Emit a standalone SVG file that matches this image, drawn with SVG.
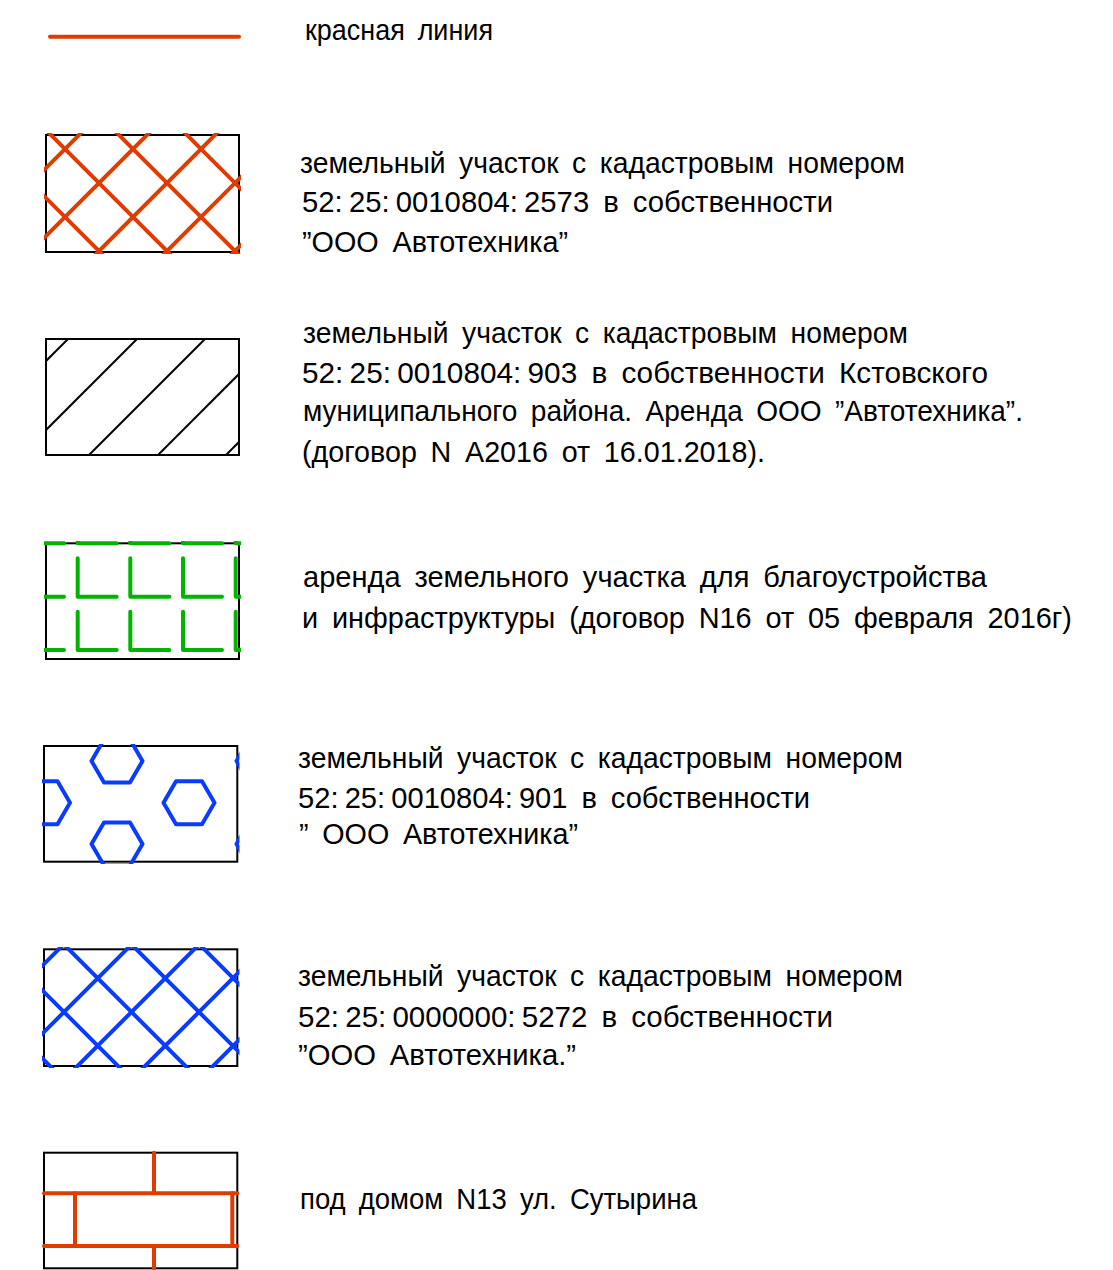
<svg xmlns="http://www.w3.org/2000/svg" width="1113" height="1270" viewBox="0 0 1113 1270">
<style>
.bg{fill:#ffffff}
.frame{fill:none;stroke:#000000;stroke-width:2}
.hatch{fill:none;stroke:#000000;stroke-width:2}
.red{fill:none;stroke:#E03C00;stroke-width:4;stroke-linecap:round;stroke-linejoin:round}
.green{fill:none;stroke:#00B400;stroke-width:4;stroke-linecap:round;stroke-linejoin:round}
.blue{fill:none;stroke:#0A3CFF;stroke-width:4;stroke-linecap:round;stroke-linejoin:round}
.t{font-family:"Liberation Sans","DejaVu Sans",sans-serif;font-size:30px;fill:#000000;word-spacing:6px}
.num{word-spacing:-2px}
</style>
<defs>
<clipPath id="c1"><rect x="44" y="133" width="197" height="121"/></clipPath>
<clipPath id="c2"><rect x="46" y="339" width="193" height="116"/></clipPath>
<clipPath id="c3"><rect x="44" y="541" width="197" height="120"/></clipPath>
<clipPath id="c4"><rect x="42" y="744" width="197.5" height="120"/></clipPath>
<clipPath id="c5"><rect x="42" y="947" width="197.5" height="121"/></clipPath>
</defs>
<rect class="bg" x="0" y="0" width="1113" height="1270"/>

<g id="legend-red-line">
<line class="red" x1="50" y1="36.7" x2="239" y2="36.7"/>
<text class="t" x="305" y="40" textLength="188" lengthAdjust="spacingAndGlyphs">красная линия</text>
</g>

<g id="legend-2573">
<rect class="frame" x="46" y="135" width="193" height="117"/>
<g clip-path="url(#c1)" class="red">
<line x1="0" y1="-52" x2="300" y2="248"/>
<line x1="0" y1="16" x2="300" y2="316"/>
<line x1="0" y1="84" x2="300" y2="384"/>
<line x1="0" y1="152" x2="300" y2="452"/>
<line x1="0" y1="214" x2="300" y2="-86"/>
<line x1="0" y1="282" x2="300" y2="-18"/>
<line x1="0" y1="350" x2="300" y2="50"/>
<line x1="0" y1="418" x2="300" y2="118"/>
<line x1="0" y1="486" x2="300" y2="186"/>
</g>
<text class="t" x="300" y="173" textLength="605" lengthAdjust="spacingAndGlyphs">земельный участок с кадастровым номером</text>
<text class="t" x="302" y="212" textLength="531" lengthAdjust="spacingAndGlyphs"><tspan class="num">52: 25: 0010804: 2573</tspan>  в собственности</text>
<text class="t" x="302" y="252" textLength="266" lengthAdjust="spacingAndGlyphs">”ООО Автотехника”</text>
</g>

<g id="legend-903">
<rect class="frame" x="46" y="339" width="193" height="116"/>
<g clip-path="url(#c2)" class="hatch">
<line x1="0" y1="407" x2="300" y2="107"/>
<line x1="0" y1="476" x2="300" y2="176"/>
<line x1="0" y1="544" x2="300" y2="244"/>
<line x1="0" y1="613" x2="300" y2="313"/>
<line x1="0" y1="681" x2="300" y2="381"/>
</g>
<text class="t" x="303" y="343" textLength="605" lengthAdjust="spacingAndGlyphs">земельный участок с кадастровым номером</text>
<text class="t" x="302" y="383" textLength="686" lengthAdjust="spacingAndGlyphs"><tspan class="num">52: 25: 0010804: 903</tspan>  в собственности Кстовского</text>
<text class="t" x="303" y="421" textLength="720" lengthAdjust="spacingAndGlyphs">муниципального района. Аренда ООО ”Автотехника”.</text>
<text class="t" x="302" y="462" textLength="463" lengthAdjust="spacingAndGlyphs">(договор N А2016 от 16.01.2018).</text>
</g>

<g id="legend-lease">
<rect class="frame" x="46" y="543.3" width="193" height="115.7"/>
<g clip-path="url(#c3)" class="green">
<path d="M25 505V543.3H64 M77.7 505V543.3H116.7 M130.3 505V543.3H169.3 M183 505V543.3H222 M235.7 505V543.3H274.7"/>
<path d="M25 558.3V596.7H64 M77.7 558.3V596.7H116.7 M130.3 558.3V596.7H169.3 M183 558.3V596.7H222 M235.7 558.3V596.7H274.7"/>
<path d="M25 611.7V650H64 M77.7 611.7V650H116.7 M130.3 611.7V650H169.3 M183 611.7V650H222 M235.7 611.7V650H274.7"/>
</g>
<text class="t" x="303" y="587" textLength="684" lengthAdjust="spacingAndGlyphs">аренда земельного участка для благоустройства</text>
<text class="t" x="302" y="628" textLength="770" lengthAdjust="spacingAndGlyphs">и инфраструктуры (договор N16 от 05 февраля 2016г)</text>
</g>

<g id="legend-901">
<rect class="frame" x="44" y="746" width="193.3" height="115.7"/>
<g clip-path="url(#c4)" class="blue">
<polygon points="19,802.7 31.5,781.2 57.5,781.2 70,802.7 57.5,824.2 31.5,824.2"/>
<polygon points="91.5,761 104,739.5 130,739.5 142.5,761 130,782.5 104,782.5"/>
<polygon points="91.5,844 104,822.5 130,822.5 142.5,844 130,865.5 104,865.5"/>
<polygon points="163.5,802.7 176,781.2 202,781.2 214.5,802.7 202,824.2 176,824.2"/>
<polygon points="236.5,761 249,739.5 275,739.5 287.5,761 275,782.5 249,782.5"/>
<polygon points="236.5,844 249,822.5 275,822.5 287.5,844 275,865.5 249,865.5"/>
</g>
<text class="t" x="298" y="768" textLength="605" lengthAdjust="spacingAndGlyphs">земельный участок с кадастровым номером</text>
<text class="t" x="298" y="808" textLength="512" lengthAdjust="spacingAndGlyphs"><tspan class="num">52: 25: 0010804: 901</tspan>  в собственности</text>
<text class="t" x="299" y="844" textLength="279" lengthAdjust="spacingAndGlyphs">” ООО Автотехника”</text>
</g>

<g id="legend-5272">
<rect class="frame" x="44" y="949.3" width="193.3" height="116.7"/>
<g clip-path="url(#c5)" class="blue">
<line x1="0" y1="745" x2="300" y2="1045"/>
<line x1="0" y1="813" x2="300" y2="1113"/>
<line x1="0" y1="880.5" x2="300" y2="1180.5"/>
<line x1="0" y1="948" x2="300" y2="1248"/>
<line x1="0" y1="1016" x2="300" y2="1316"/>
<line x1="0" y1="1008" x2="300" y2="708"/>
<line x1="0" y1="1076" x2="300" y2="776"/>
<line x1="0" y1="1143.5" x2="300" y2="843.5"/>
<line x1="0" y1="1211" x2="300" y2="911"/>
<line x1="0" y1="1279" x2="300" y2="979"/>
</g>
<text class="t" x="298" y="986" textLength="605" lengthAdjust="spacingAndGlyphs">земельный участок с кадастровым номером</text>
<text class="t" x="298" y="1027" textLength="535" lengthAdjust="spacingAndGlyphs"><tspan class="num">52: 25: 0000000: 5272</tspan>  в собственности</text>
<text class="t" x="298" y="1065" textLength="278" lengthAdjust="spacingAndGlyphs">”ООО Автотехника.”</text>
</g>

<g id="legend-house">
<rect class="frame" x="44" y="1152.7" width="193.3" height="115.6"/>
<g class="red">
<line x1="44" y1="1193.3" x2="237.3" y2="1193.3"/>
<line x1="44" y1="1246" x2="237.3" y2="1246"/>
<line x1="154" y1="1152.7" x2="154" y2="1193.3"/>
<line x1="75" y1="1193.3" x2="75" y2="1246"/>
<line x1="232.3" y1="1193.3" x2="232.3" y2="1246"/>
<line x1="154" y1="1246" x2="154" y2="1268.3"/>
</g>
<text class="t" x="300" y="1209" textLength="397" lengthAdjust="spacingAndGlyphs">под домом N13 ул. Сутырина</text>
</g>
</svg>
